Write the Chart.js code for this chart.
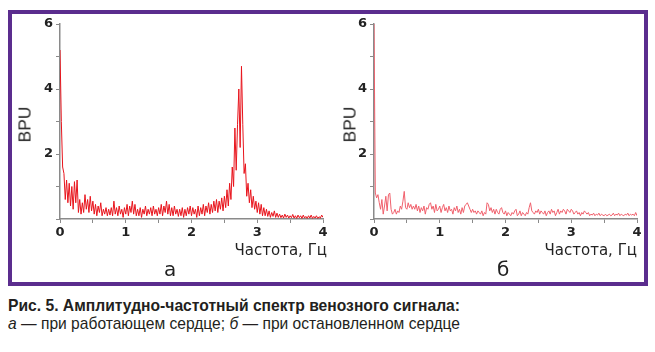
<!DOCTYPE html>
<html>
<head>
<meta charset="utf-8">
<script src="https://cdn.jsdelivr.net/npm/chart.js"></script>
<style>
  html,body{margin:0;padding:0;background:#fff;}
  body{width:655px;height:352px;position:relative;overflow:hidden;font-family:"Liberation Sans",Arial,sans-serif;}
  #frame{position:absolute;left:8px;top:10px;width:640px;height:276px;border:4px solid #5b2d8e;box-sizing:border-box;}
  .cv{position:absolute;top:0;}
  .t{position:absolute;color:#222;white-space:nowrap;}
  .xt{font-family:"DejaVu Sans",sans-serif;font-size:15px;line-height:15px;top:243px;}
  .yt{font-family:"Liberation Sans",sans-serif;font-size:17px;line-height:17px;transform:rotate(-90deg) scaleX(1.02);transform-origin:center center;}
  .pl{font-family:"DejaVu Sans",sans-serif;font-size:20px;line-height:20px;top:259px;}
  .cap{position:absolute;left:8px;color:#231f20;font-family:"Liberation Sans Narrow","Arial Narrow","Liberation Sans",sans-serif;font-size:17px;line-height:17px;white-space:nowrap;transform-origin:0 0;}
</style>
</head>
<body>
<div id="frame"></div>
<canvas id="ca" class="cv" width="330" height="290" style="left:0px;width:330px;height:290px;"></canvas>
<canvas id="cb" class="cv" width="325" height="290" style="left:330px;width:325px;height:290px;"></canvas>

<div class="t yt" style="left:5px;top:116px;width:40px;text-align:center;">BPU</div>
<div class="t yt" style="left:330px;top:116px;width:40px;text-align:center;">BPU</div>
<div class="t xt" style="right:328px;">Частота, Гц</div>
<div class="t xt" style="right:18px;">Частота, Гц</div>
<div class="t pl" style="left:164px;">а</div>
<div class="t pl" style="left:497px;">б</div>

<div class="cap" id="cap1" style="top:297px;font-weight:bold;">Рис. 5. Амплитудно-частотный спектр венозного сигнала:</div>
<div class="cap" id="cap2" style="top:315px;"><i>а</i> — при работающем сердце; <i>б</i> — при остановленном сердце</div>

<script>
// Frequency bins, Hz
const freq = [
  0,0.02,0.04,0.06,0.08,0.1,0.12,0.14,0.16,0.18,
  0.2,0.22,0.24,0.26,0.28,0.3,0.32,0.34,0.36,0.38,
  0.4,0.42,0.44,0.46,0.48,0.5,0.52,0.54,0.56,0.58,
  0.6,0.62,0.64,0.66,0.68,0.7,0.72,0.74,0.76,0.78,
  0.8,0.82,0.84,0.86,0.88,0.9,0.92,0.94,0.96,0.98,
  1,1.02,1.04,1.06,1.08,1.1,1.12,1.14,1.16,1.18,
  1.2,1.22,1.24,1.26,1.28,1.3,1.32,1.34,1.36,1.38,
  1.4,1.42,1.44,1.46,1.48,1.5,1.52,1.54,1.56,1.58,
  1.6,1.62,1.64,1.66,1.68,1.7,1.72,1.74,1.76,1.78,
  1.8,1.82,1.84,1.86,1.88,1.9,1.92,1.94,1.96,1.98,
  2,2.02,2.04,2.06,2.08,2.1,2.12,2.14,2.16,2.18,
  2.2,2.22,2.24,2.26,2.28,2.3,2.32,2.34,2.36,2.38,
  2.4,2.42,2.44,2.46,2.48,2.5,2.52,2.54,2.56,2.58,
  2.6,2.62,2.64,2.66,2.68,2.7,2.72,2.74,2.76,2.78,
  2.8,2.82,2.84,2.86,2.88,2.9,2.92,2.94,2.96,2.98,
  3,3.02,3.04,3.06,3.08,3.1,3.12,3.14,3.16,3.18,
  3.2,3.22,3.24,3.26,3.28,3.3,3.32,3.34,3.36,3.38,
  3.4,3.42,3.44,3.46,3.48,3.5,3.52,3.54,3.56,3.58,
  3.6,3.62,3.64,3.66,3.68,3.7,3.72,3.74,3.76,3.78,
  3.8,3.82,3.84,3.86,3.88,3.9,3.92,3.94,3.96,3.98,
  4
];

// (а) working heart, BPU
const ampA = [
  5.2,3.0,1.6,1.4,0.6,1.2,0.5,1.1,0.4,1.0,
  0.3,1.15,0.5,1.2,0.2,0.6,0.15,0.5,0.2,0.75,
  0.3,0.6,0.2,0.7,0.25,0.55,0.15,0.45,0.1,0.4,
  0.2,0.5,0.1,0.3,0.15,0.35,0.1,0.3,0.12,0.35,
  0.1,0.55,0.15,0.35,0.1,0.4,0.15,0.3,0.05,0.35,
  0.15,0.45,0.1,0.4,0.2,0.55,0.15,0.45,0.1,0.3,
  0.1,0.35,0.05,0.3,0.15,0.4,0.1,0.3,0.15,0.35,
  0.1,0.4,0.15,0.3,0.1,0.35,0.15,0.45,0.1,0.4,
  0.2,0.55,0.15,0.45,0.1,0.35,0.1,0.4,0.15,0.3,
  0.08,0.3,0.1,0.35,0.05,0.3,0.1,0.35,0.15,0.4,
  0.1,0.35,0.15,0.3,0.05,0.4,0.1,0.35,0.15,0.45,
  0.1,0.4,0.2,0.5,0.15,0.45,0.2,0.55,0.25,0.6,
  0.2,0.55,0.3,0.65,0.25,0.7,0.35,0.9,0.4,1.1,
  0.6,1.6,1.0,2.8,1.5,2.9,4.0,2.2,4.7,2.9,
  1.4,1.7,0.7,1.1,0.5,0.9,0.35,0.7,0.3,0.55,
  0.2,0.5,0.15,0.45,0.1,0.35,0.1,0.3,0.08,0.25,
  0.05,0.2,0.08,0.25,0.05,0.18,0.05,0.15,0.04,0.12,
  0.03,0.15,0.05,0.12,0.03,0.1,0.04,0.14,0.03,0.1,
  0.02,0.12,0.04,0.1,0.02,0.12,0.03,0.08,0.02,0.1,
  0.03,0.12,0.02,0.08,0.03,0.1,0.02,0.07,0.03,0.12,
  0.05
];

// (б) stopped heart, BPU
const ampB = [
  6.0,0.8,0.65,0.75,0.5,0.3,0.6,0.15,0.4,0.7,
  0.25,0.75,0.8,0.3,0.15,0.2,0.3,0.15,0.25,0.2,
  0.4,0.3,0.55,0.85,0.35,0.3,0.5,0.35,0.45,0.3,
  0.4,0.3,0.45,0.25,0.4,0.2,0.35,0.25,0.4,0.15,
  0.35,0.3,0.45,0.5,0.3,0.4,0.2,0.45,0.25,0.3,
  0.4,0.2,0.35,0.45,0.25,0.35,0.2,0.4,0.25,0.3,
  0.15,0.35,0.25,0.4,0.2,0.3,0.15,0.35,0.2,0.4,
  0.45,0.5,0.4,0.3,0.2,0.3,0.2,0.25,0.15,0.25,
  0.2,0.15,0.25,0.1,0.2,0.15,0.5,0.45,0.25,0.35,
  0.2,0.3,0.15,0.3,0.2,0.15,0.3,0.35,0.2,0.15,
  0.25,0.1,0.2,0.15,0.1,0.2,0.15,0.25,0.3,0.1,
  0.15,0.25,0.1,0.2,0.15,0.1,0.2,0.15,0.35,0.5,
  0.25,0.2,0.15,0.25,0.2,0.3,0.15,0.25,0.2,0.15,
  0.25,0.1,0.2,0.25,0.15,0.3,0.2,0.25,0.1,0.2,
  0.3,0.15,0.25,0.2,0.3,0.25,0.15,0.3,0.25,0.2,
  0.3,0.25,0.15,0.2,0.25,0.15,0.2,0.1,0.2,0.15,
  0.25,0.2,0.15,0.2,0.1,0.15,0.12,0.18,0.1,0.15,
  0.12,0.18,0.1,0.15,0.12,0.1,0.15,0.1,0.12,0.15,
  0.1,0.12,0.18,0.1,0.15,0.12,0.18,0.1,0.15,0.12,
  0.1,0.15,0.12,0.18,0.1,0.15,0.12,0.15,0.1,0.2,
  0.1
];

const xTickLabels = ['0','1','2','3','4'];
const yTickLabels = ['2','4','6'];

function makeChart(id, amps, color, yWidth, padRight) {
  const axisColor = '#8a8a8a';
  const tickFont = {family: '"DejaVu Sans", sans-serif', size: 13, weight: 'bold'};
  return new Chart(document.getElementById(id), {
    type: 'line',
    data: {
      datasets: [{
        data: freq.map((f, i) => ({x: f, y: amps[i]})),
        borderColor: color,
        borderWidth: 1,
        pointRadius: 0,
        tension: 0,
        fill: false
      }]
    },
    options: {
      responsive: false,
      animation: false,
      events: [],
      layout: {padding: {left: 0, top: 24, right: padRight, bottom: 41}},
      plugins: {legend: {display: false}, tooltip: {enabled: false}},
      scales: {
        x: {
          type: 'linear', min: 0, max: 4,
          afterFit: s => { s.height = 30; },
          border: {display: true, color: axisColor, width: 1.5},
          grid: {display: true, drawOnChartArea: false, drawTicks: true, tickLength: 4, color: axisColor, lineWidth: 1},
          ticks: {
            stepSize: 0.5, autoSkip: false, maxRotation: 0, padding: 2,
            color: '#222', font: tickFont,
            callback: v => { const s = String(v); return xTickLabels.includes(s) ? s : ''; }
          }
        },
        y: {
          type: 'linear', min: 0, max: 6,
          afterFit: s => { s.width = yWidth; },
          border: {display: true, color: axisColor, width: 1.5},
          grid: {display: true, drawOnChartArea: false, drawTicks: true, tickLength: 4, color: axisColor, lineWidth: 1},
          ticks: {
            stepSize: 1, autoSkip: false, padding: 3,
            color: '#222', font: tickFont,
            callback: v => { const s = String(v); return yTickLabels.includes(s) ? s : ''; }
          }
        }
      }
    }
  });
}

makeChart('ca', ampA, '#e8141c', 60, 7);
makeChart('cb', ampB, '#f0606c', 44, 18);

// fit caption lines to the reference width
['cap1', 'cap2'].forEach(id => {
  const el = document.getElementById(id);
  const w = el.getBoundingClientRect().width;
  el.style.transform = 'scaleX(' + (452 / w) + ')';
});
</script>
</body>
</html>
